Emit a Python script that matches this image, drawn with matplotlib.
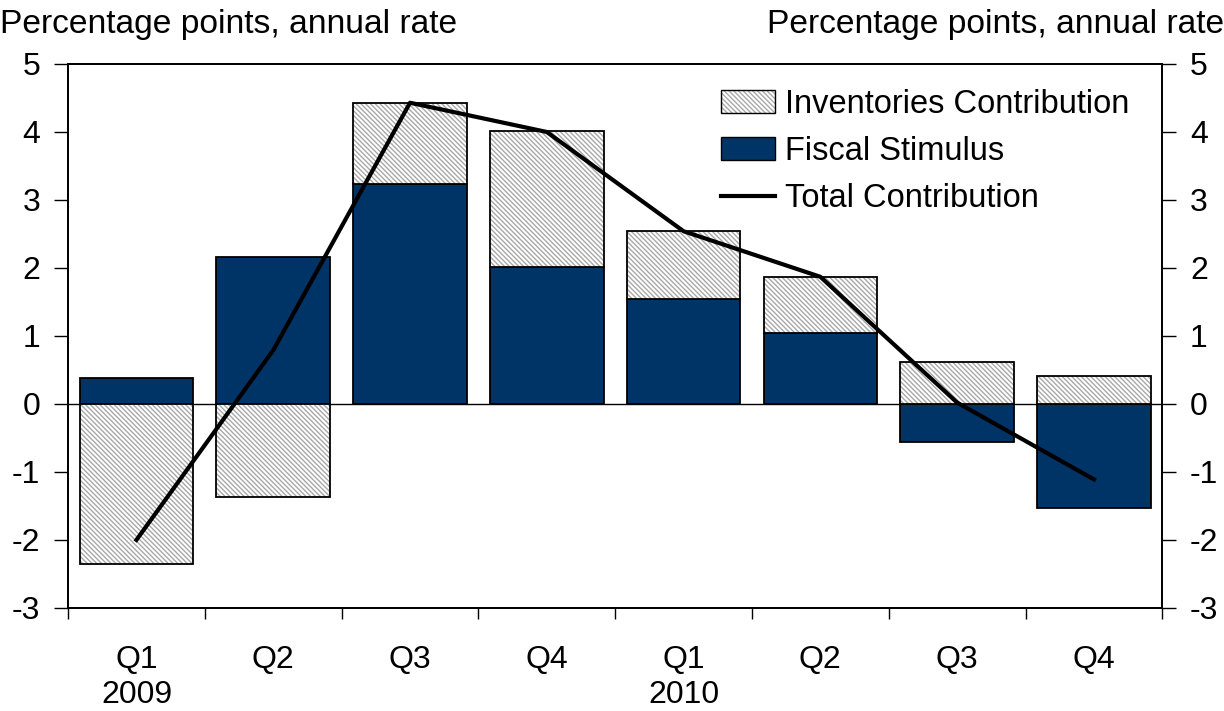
import numpy as np
import matplotlib.pyplot as plt
from matplotlib.patches import Patch
from matplotlib.lines import Line2D

plt.rcParams['font.family'] = ['Liberation Sans', 'DejaVu Sans']
plt.rcParams['axes.unicode_minus'] = False
plt.rcParams['hatch.linewidth'] = 1.0

# quarterly contributions, percentage points at annual rate
quarters = ['Q1\n2009', 'Q2', 'Q3', 'Q4', 'Q1\n2010', 'Q2', 'Q3', 'Q4']
fiscal = [0.38, 2.16, 3.24, 2.01, 1.55, 1.05, -0.56, -1.53]
inventories = [-2.35, -1.37, 1.18, 2.00, 0.99, 0.82, 0.62, 0.41]
total = [-2.00, 0.79, 4.43, 4.00, 2.54, 1.87, 0.02, -1.11]

navy = '#003366'
hatch_gray = '#a8a8a8'
hatch = '\\' * 7

x = np.arange(len(quarters))
# inventories stack on top of fiscal when both share a sign, else start at zero
inv_base = [f if (f > 0) == (v > 0) else 0 for f, v in zip(fiscal, inventories)]

fig = plt.figure(figsize=(12.24, 7.11), dpi=100)
ax = fig.add_axes([0.0556, 0.145, 0.894, 0.765])
width = 0.83

ax.bar(x, fiscal, width, color=navy, edgecolor='black', linewidth=1.3, zorder=2)
ax.bar(x, inventories, width, bottom=inv_base, color='white',
       edgecolor=hatch_gray, hatch=hatch, linewidth=0, zorder=2)
ax.bar(x, inventories, width, bottom=inv_base, fill=False,
       edgecolor='black', linewidth=1.3, zorder=3)
ax.axhline(0, color='black', linewidth=1.0, zorder=1)
ax.plot(x, total, color='black', linewidth=3, zorder=4)

ax.set_xlim(-0.5, len(quarters) - 0.5)
ax.set_ylim(-3, 5)
ax.set_yticks(range(-3, 6))
ax.set_xticks(x)
ax.set_xticklabels(quarters, fontsize=23, linespacing=1.2)
ax.set_xticks(np.arange(-0.5, len(quarters)), minor=True)
ax.tick_params(axis='x', which='major', length=0, pad=27)
ax.tick_params(axis='x', which='minor', length=8, width=1, direction='out')
ax.tick_params(axis='y', labelsize=23, length=10, width=1, direction='out', pad=10)

ax2 = ax.twinx()
ax2.set_ylim(-3, 5)
ax2.set_yticks(range(-3, 6))
ax2.tick_params(axis='y', labelsize=23, length=10, width=1, direction='out', pad=10)

for a in (ax, ax2):
    for s in ('left', 'right', 'bottom', 'top'):
        a.spines[s].set_linewidth(1.3)

fig.text(0.0, 0.966, 'Percentage points, annual rate', fontsize=24.2, va='center', ha='left')
fig.text(1.0, 0.966, 'Percentage points, annual rate', fontsize=24.2, va='center', ha='right')

inv_handle = (Patch(facecolor='white', edgecolor=hatch_gray, hatch=hatch, linewidth=0),
              Patch(fill=False, edgecolor='black', linewidth=1.0))
fis_handle = Patch(facecolor=navy, edgecolor='black', linewidth=1.0)
tot_handle = Line2D([], [], color='black', linewidth=3)
ax.legend([inv_handle, fis_handle, tot_handle],
          ['Inventories Contribution', 'Fiscal Stimulus', 'Total Contribution'],
          loc='upper left', bbox_to_anchor=(0.585, 0.978), frameon=False,
          fontsize=23.5, handlelength=1.65, handleheight=0.7, handletextpad=0.3,
          labelspacing=0.49, borderaxespad=0)

fig.savefig('out.png', dpi=100)
